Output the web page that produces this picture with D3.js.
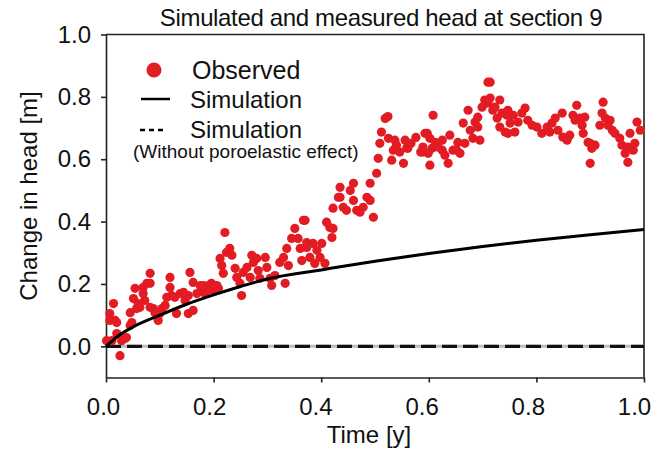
<!DOCTYPE html>
<html>
<head>
<meta charset="utf-8">
<script src="https://cdn.jsdelivr.net/npm/d3@7"></script>
<style>
  body { margin: 0; background: #fff; }
  svg { display: block; font-family: "Liberation Sans", Arial, sans-serif; }
</style>
</head>
<body>
<svg id="chart" width="658" height="450"></svg>
<script>
// observed head change
const obsTime = [
  0.001, 0.007, 0.014, 0.007, 0.017, 0.020, 0.026, 0.029, 0.035, 0.038,
  0.045, 0.048, 0.051, 0.054, 0.057, 0.060, 0.063, 0.069, 0.072, 0.069,
  0.076, 0.082, 0.082, 0.082, 0.088, 0.091, 0.097, 0.100, 0.104, 0.110,
  0.113, 0.119, 0.119, 0.122, 0.128, 0.131, 0.138, 0.144, 0.147, 0.153,
  0.153, 0.156, 0.162, 0.162, 0.169, 0.175, 0.178, 0.184, 0.187, 0.045,
  0.020, 0.011, 0.196, 0.206, 0.199, 0.209, 0.221, 0.212, 0.215, 0.218,
  0.224, 0.230, 0.234, 0.240, 0.243, 0.249, 0.252, 0.255, 0.262, 0.268,
  0.271, 0.274, 0.280, 0.283, 0.286, 0.296, 0.299, 0.305, 0.308, 0.314,
  0.323, 0.330, 0.333, 0.336, 0.339, 0.345, 0.351, 0.357, 0.361, 0.364,
  0.367, 0.373, 0.370, 0.373, 0.379, 0.385, 0.388, 0.392, 0.398, 0.401,
  0.407, 0.410, 0.416, 0.420, 0.422, 0.422, 0.432, 0.435, 0.441, 0.447,
  0.454, 0.460, 0.460, 0.466, 0.472, 0.478, 0.485, 0.491, 0.491, 0.497,
  0.503, 0.506, 0.509, 0.512, 0.525, 0.531, 0.534, 0.540, 0.546, 0.553,
  0.556, 0.519, 0.524, 0.537, 0.559, 0.435, 0.561, 0.589, 0.597, 0.602,
  0.606, 0.602, 0.608, 0.612, 0.625, 0.625, 0.630, 0.636, 0.639, 0.645,
  0.654, 0.658, 0.667, 0.664, 0.673, 0.677, 0.682, 0.686, 0.691, 0.695,
  0.699, 0.704, 0.710, 0.714, 0.710, 0.714, 0.719, 0.727, 0.732, 0.736,
  0.732, 0.742, 0.747, 0.751, 0.757, 0.760, 0.766, 0.617, 0.652, 0.691,
  0.723, 0.745, 0.773, 0.779, 0.784, 0.792, 0.801, 0.810, 0.820, 0.825,
  0.829, 0.835, 0.840, 0.848, 0.849, 0.857, 0.862, 0.868, 0.872, 0.875,
  0.881, 0.885, 0.887, 0.890, 0.896, 0.903, 0.900, 0.909, 0.918, 0.924,
  0.922, 0.928, 0.937, 0.941, 0.946, 0.955, 0.959, 0.965, 0.970, 0.974,
  0.970, 0.980, 0.987, 0.993, 0.900, 0.933, 0.983, 0.747, 0.190, 0.193,
  0.203, 0.181, 0.593, 0.599, 0.589, 0.567, 0.576, 0.585
];
const obsHead = [
  0.018, 0.105, 0.137, 0.083, 0.083, 0.041, -0.030, 0.018, 0.025, 0.028,
  0.108, 0.076, 0.153, 0.186, 0.121, 0.137, 0.125, 0.169, 0.147, 0.189,
  0.202, 0.234, 0.202, 0.125, 0.121, 0.108, 0.083, 0.105, 0.121, 0.131,
  0.157, 0.221, 0.189, 0.163, 0.157, 0.105, 0.169, 0.173, 0.147, 0.105,
  0.163, 0.237, 0.205, 0.115, 0.169, 0.195, 0.179, 0.169, 0.186, 0.067,
  0.076, 0.018, 0.202, 0.195, 0.179, 0.186, 0.365, 0.282, 0.259, 0.234,
  0.301, 0.314, 0.292, 0.250, 0.221, 0.202, 0.163, 0.237, 0.253, 0.221,
  0.292, 0.269, 0.282, 0.243, 0.218, 0.285, 0.253, 0.218, 0.195, 0.227,
  0.269, 0.285, 0.202, 0.314, 0.259, 0.346, 0.378, 0.346, 0.314, 0.275,
  0.404, 0.333, 0.404, 0.317, 0.285, 0.330, 0.266, 0.308, 0.285, 0.330,
  0.266, 0.398, 0.381, 0.349, 0.378, 0.443, 0.478, 0.510, 0.446, 0.436,
  0.500, 0.468, 0.523, 0.436, 0.430, 0.446, 0.478, 0.468, 0.523, 0.414,
  0.555, 0.603, 0.651, 0.687, 0.667, 0.597, 0.629, 0.645, 0.623, 0.587,
  0.661, 0.731, 0.737, 0.661, 0.636, 0.478, 0.635, 0.623, 0.683, 0.667,
  0.635, 0.581, 0.741, 0.654, 0.661, 0.629, 0.613, 0.587, 0.677, 0.629,
  0.654, 0.619, 0.651, 0.716, 0.757, 0.693, 0.667, 0.719, 0.703, 0.661,
  0.767, 0.790, 0.847, 0.847, 0.780, 0.796, 0.757, 0.732, 0.790, 0.748,
  0.703, 0.687, 0.757, 0.716, 0.741, 0.687, 0.719, 0.639, 0.629, 0.735,
  0.767, 0.741, 0.748, 0.764, 0.725, 0.709, 0.703, 0.683, 0.703, 0.687,
  0.716, 0.732, 0.693, 0.748, 0.671, 0.661, 0.677, 0.741, 0.725, 0.773,
  0.732, 0.709, 0.683, 0.735, 0.654, 0.635, 0.587, 0.645, 0.709, 0.783,
  0.748, 0.732, 0.725, 0.693, 0.683, 0.667, 0.645, 0.619, 0.639, 0.683,
  0.590, 0.629, 0.719, 0.693, 0.651, 0.709, 0.651, 0.683, 0.195, 0.182,
  0.189, 0.195, 0.683, 0.619, 0.639, 0.651, 0.670, 0.623
];

// simulated head with poroelastic effect
const simTime = [0, 0.01, 0.02, 0.05, 0.1, 0.15, 0.2, 0.25, 0.3, 0.4, 0.5, 0.6, 0.7, 0.8, 0.9, 1.0];
const simHead = [0, 0.015, 0.03, 0.062, 0.1, 0.135, 0.165, 0.192, 0.216, 0.245, 0.273, 0.298, 0.32, 0.34, 0.358, 0.375];

// simulated head without poroelastic effect
const flatTime = [0, 1];
const flatHead = [0, 0];

const xTicks = [0, 0.2, 0.4, 0.6, 0.8, 1.0];
const yTicks = [0, 0.2, 0.4, 0.6, 0.8, 1.0];

const red = '#e31b23';
const svg = d3.select('#chart');

const x = d3.scaleLinear().domain([0, 1]).range([106, 644]);
const y = d3.scaleLinear().domain([-0.1, 1.0]).range([377.5, 34.5]);

// axes
const xAxis = svg.append('g')
  .attr('transform', `translate(0,${y.range()[0]})`)
  .call(d3.axisBottom(x).tickValues(xTicks).tickFormat(d3.format('.1f'))
    .tickSize(5).tickSizeOuter(0).tickPadding(15));

const yAxis = svg.append('g')
  .attr('transform', `translate(${x.range()[0]},0)`)
  .call(d3.axisLeft(y).tickValues(yTicks).tickFormat(d3.format('.1f'))
    .tickSize(5).tickSizeOuter(0).tickPadding(10));

[xAxis, yAxis].forEach(g => {
  g.selectAll('path, line').attr('stroke', '#222').attr('stroke-width', 1.6);
  g.selectAll('text').attr('font-size', 24).attr('fill', '#111')
    .attr('font-family', '"Liberation Sans", Arial, sans-serif');
});
// the x labels sit a little left of their ticks in the original
xAxis.selectAll('text').attr('dx', d => -3 - 7 * d);

// top and right frame
svg.append('path')
  .attr('d', `M${x(0)},${y(1)}H${x(1)}V${y(-0.1)}`)
  .attr('fill', 'none')
  .attr('stroke', '#222')
  .attr('stroke-width', 1.6);

// no-poroelastic line: grey under black dashes
const flatLine = d3.line().x((d, i) => x(flatTime[i])).y((d, i) => y(flatHead[i]));
svg.append('path')
  .attr('d', flatLine(flatTime))
  .attr('stroke', '#bdbdbd')
  .attr('stroke-width', 3)
  .attr('fill', 'none');
svg.append('path')
  .attr('d', flatLine(flatTime))
  .attr('stroke', '#111')
  .attr('stroke-width', 3.2)
  .attr('stroke-dasharray', '15,6')
  .attr('fill', 'none');

// observed points
svg.append('g')
  .selectAll('circle')
  .data(obsTime.map((t, i) => [t, obsHead[i]]))
  .join('circle')
  .attr('cx', d => x(d[0]))
  .attr('cy', d => y(d[1]))
  .attr('r', 4.6)
  .attr('fill', red);

// simulation curve
const simLine = d3.line()
  .x((d, i) => x(simTime[i]))
  .y((d, i) => y(simHead[i]))
  .curve(d3.curveMonotoneX);
svg.append('path')
  .attr('d', simLine(simTime))
  .attr('stroke', '#000')
  .attr('stroke-width', 3)
  .attr('fill', 'none');

// titles
svg.append('text')
  .attr('x', 381)
  .attr('y', 26)
  .attr('text-anchor', 'middle')
  .attr('font-size', 24)
  .attr('letter-spacing', -0.35)
  .attr('fill', '#111')
  .text('Simulated and measured head at section 9');

svg.append('text')
  .attr('x', 369)
  .attr('y', 443)
  .attr('text-anchor', 'middle')
  .attr('font-size', 24)
  .attr('fill', '#111')
  .text('Time [y]');

svg.append('text')
  .attr('transform', 'translate(37,196) rotate(-90)')
  .attr('text-anchor', 'middle')
  .attr('font-size', 24)
  .attr('fill', '#111')
  .text('Change in head [m]');

// legend
const legend = svg.append('g');
legend.append('circle')
  .attr('cx', 154).attr('cy', 70).attr('r', 7.5).attr('fill', red);
legend.append('text')
  .attr('x', 192).attr('y', 79).attr('font-size', 25).attr('fill', '#111')
  .text('Observed');
legend.append('line')
  .attr('x1', 141).attr('x2', 170).attr('y1', 99).attr('y2', 99)
  .attr('stroke', '#000').attr('stroke-width', 2.5);
legend.append('text')
  .attr('x', 190).attr('y', 108).attr('font-size', 24).attr('fill', '#111')
  .text('Simulation');
legend.append('line')
  .attr('x1', 140).attr('x2', 165).attr('y1', 130).attr('y2', 130)
  .attr('stroke', '#000').attr('stroke-width', 2.5)
  .attr('stroke-dasharray', '5,4');
legend.append('text')
  .attr('x', 190).attr('y', 138).attr('font-size', 24).attr('fill', '#111')
  .text('Simulation');
legend.append('text')
  .attr('x', 133).attr('y', 158).attr('font-size', 19).attr('fill', '#111')
  .text('(Without poroelastic effect)');
</script>
</body>
</html>
